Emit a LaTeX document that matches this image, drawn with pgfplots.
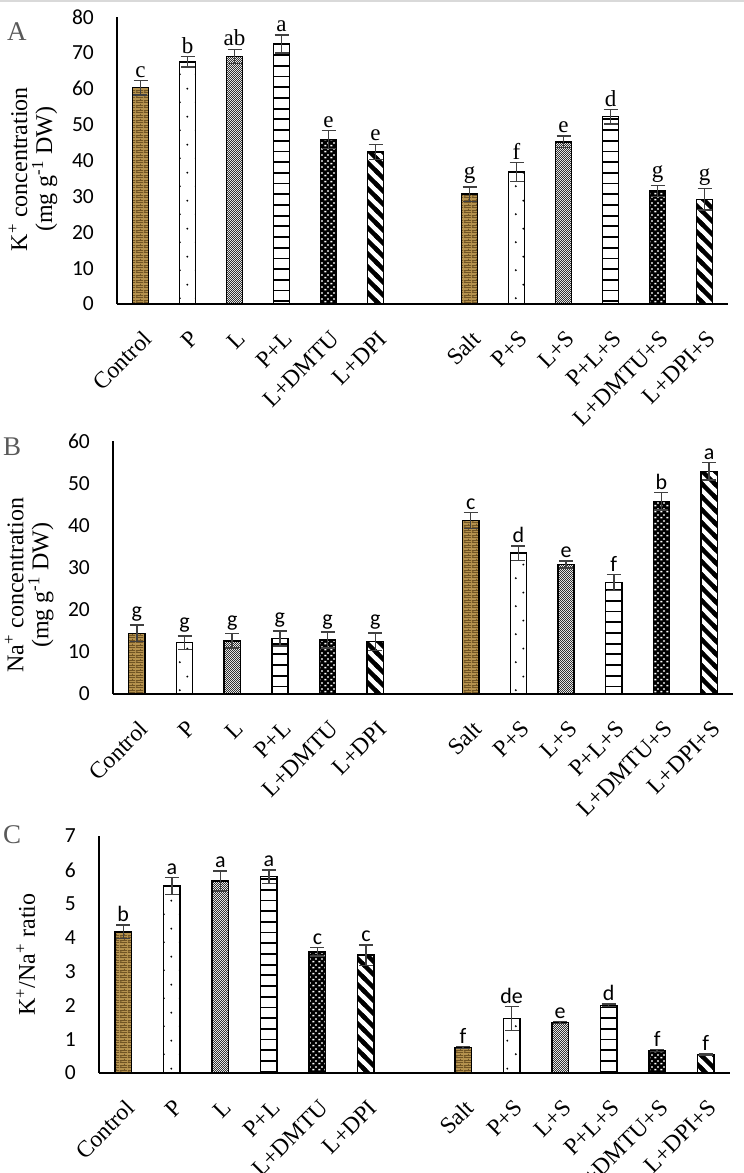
\documentclass[border=0pt]{standalone}
\usepackage{pgfplots}
\pgfplotsset{compat=1.18}
\usepackage{pgfplotstable}
\usetikzlibrary{patterns}
\usepackage{fontspec}
\setmainfont{Liberation Serif}
\newfontfamily\calfont{Carlito}

\definecolor{gold}{RGB}{181,146,78}
\definecolor{goldd}{RGB}{112,84,36}
\definecolor{errc}{RGB}{64,64,64}

\pgfdeclarepatternformonly{brickx}{\pgfpointorigin}{\pgfpoint{8pt}{5pt}}{\pgfpoint{8pt}{5pt}}{
  \pgfsetlinewidth{0.9pt}
  \pgfpathmoveto{\pgfpoint{0pt}{0.5pt}}\pgfpathlineto{\pgfpoint{8pt}{0.5pt}}
  \pgfpathmoveto{\pgfpoint{0pt}{3pt}}\pgfpathlineto{\pgfpoint{8pt}{3pt}}
  \pgfpathmoveto{\pgfpoint{1pt}{0.5pt}}\pgfpathlineto{\pgfpoint{1pt}{3pt}}
  \pgfpathmoveto{\pgfpoint{5pt}{3pt}}\pgfpathlineto{\pgfpoint{5pt}{5pt}}
  \pgfusepath{stroke}
}
\pgfdeclarepatternformonly{sparsedots}{\pgfpointorigin}{\pgfpoint{16pt}{28pt}}{\pgfpoint{16pt}{28pt}}{
  \pgfpathcircle{\pgfpoint{4pt}{7pt}}{1.1pt}
  \pgfpathcircle{\pgfpoint{12pt}{21pt}}{1.1pt}
  \pgfusepath{fill}
}
\pgfdeclarepatternformonly{finechk}{\pgfpointorigin}{\pgfpoint{2.4pt}{2.4pt}}{\pgfpoint{2.4pt}{2.4pt}}{
  \pgfpathrectangle{\pgfpoint{0pt}{0pt}}{\pgfpoint{1.2pt}{1.2pt}}
  \pgfpathrectangle{\pgfpoint{1.2pt}{1.2pt}}{\pgfpoint{1.2pt}{1.2pt}}
  \pgfusepath{fill}
}
\pgfdeclarepatternformonly{hlinesw}{\pgfpoint{-1pt}{0pt}}{\pgfpoint{12pt}{10.7pt}}{\pgfpoint{10.7pt}{10.7pt}}{
  \pgfsetlinewidth{1.8pt}
  \pgfpathmoveto{\pgfpoint{-1pt}{5pt}}\pgfpathlineto{\pgfpoint{12pt}{5pt}}
  \pgfusepath{stroke}
}
\pgfdeclarepatternformonly{wsq}{\pgfpointorigin}{\pgfpoint{6pt}{6pt}}{\pgfpoint{6pt}{6pt}}{
  \pgfpathrectangle{\pgfpoint{0.5pt}{0.8pt}}{\pgfpoint{2.3pt}{1.6pt}}
  \pgfpathrectangle{\pgfpoint{3.5pt}{3.8pt}}{\pgfpoint{2.3pt}{1.6pt}}
  \pgfusepath{fill}
}
\pgfdeclarepatternformonly{nwthick}{\pgfpoint{-3pt}{-3pt}}{\pgfpoint{16pt}{16pt}}{\pgfpoint{13pt}{13pt}}{
  \pgfsetlinewidth{4.5pt}
  \pgfpathmoveto{\pgfpoint{-3pt}{16pt}}\pgfpathlineto{\pgfpoint{16pt}{-3pt}}
  \pgfusepath{stroke}
}

\pgfplotsset{
  panel/.style={scale only axis, clip=false,
    axis x line=bottom, axis y line=left,
    axis line style={-, line width=1.6pt, black},
    major tick length=0pt,
    xmin=-0.5, xmax=12.5,
    xtick={0,1,2,3,4,5,7,8,9,10,11,12},
    xticklabels={Control,P,L,P+L,L+DMTU,L+DPI,Salt,P+S,L+S,P+L+S,L+DMTU+S,L+DPI+S},
    xticklabel style={font=\fontsize{23.5}{26}\selectfont, inner sep=0pt, anchor=east, xshift=7pt, yshift=-31pt, rotate=45},
    yticklabel style={font=\calfont\fontsize{21.5}{24}\selectfont, inner sep=0pt, anchor=east, xshift=-23pt},
    /pgf/number format/assume math mode=true,
    ylabel style={font=\fontsize{24}{25}\selectfont, align=center, anchor=center},
  },
  mybar/.style={ybar, bar width=0.34, bar shift=0pt, draw=black, line width=1.5pt,
    error bars/y dir=both, error bars/y explicit,
    error bars/error bar style={line width=1.5pt, draw=errc},
    error bars/error mark options={rotate=90, line width=1.5pt, mark size=7pt, draw=errc}},
  pctrl/.style={preaction={fill=gold}, pattern=brickx, pattern color=goldd},
  pP/.style={preaction={fill=white}, pattern=sparsedots, pattern color=black},
  pL/.style={preaction={fill=white}, pattern=finechk, pattern color=black!80},
  pPL/.style={preaction={fill=white}, pattern=hlinesw, pattern color=black},
  pDMTU/.style={preaction={fill=black}, pattern=wsq, pattern color=white},
  pDPI/.style={preaction={fill=white}, pattern=nwthick, pattern color=black},
}

\pgfplotstableread{
x v e l
0 60.3 2.0 c
1 67.5 1.5 b
2 69.0 2.0 ab
3 72.5 2.5 a
4 45.8 2.5 e
5 42.4 2.1 e
7 30.6 2.0 g
8 36.8 2.7 f
9 45.2 1.6 e
10 52.2 2.0 d
11 31.5 1.6 g
12 29.2 3.0 g
}\tA

\pgfplotstableread{
x v e l
0 14.4 2.0 g
1 12.2 1.6 g
2 12.6 1.7 g
3 13.2 1.8 g
4 12.8 1.9 g
5 12.4 2.1 g
7 41.1 1.9 c
8 33.4 1.7 d
9 30.7 0.8 e
10 26.5 1.9 f
11 45.7 2.1 b
12 52.8 2.1 a
}\tB

\pgfplotstableread{
x v e l
0 4.17 0.20 b
1 5.52 0.25 a
2 5.67 0.30 a
3 5.80 0.20 a
4 3.58 0.13 c
5 3.48 0.30 c
7 0.75 0.03 f
8 1.61 0.35 de
9 1.49 0.03 e
10 2.00 0.04 d
11 0.67 0.03 f
12 0.54 0.02 f
}\tC

\begin{document}
\begin{tikzpicture}
\useasboundingbox (0,0) rectangle (744pt,-1173pt);
\fill[black!15] (0,0) rectangle (744pt,-2pt);

% ---------- Panel A ----------
\begin{axis}[panel, at={(117pt,-304pt)}, anchor=south west,
  width=611pt, height=287pt, ymin=0, ymax=80, ytick={0,10,...,80},
  ylabel={K\textsuperscript{+} concentration\\(mg g\textsuperscript{-1} DW)},
  ylabel style={at={(axis description cs:-0.1375,0.47)}}]
\addplot[mybar, pctrl] coordinates {(0,60.3) +- (0,2.0) (7,30.6) +- (0,2.0)};
\addplot[mybar, pP] coordinates {(1,67.5) +- (0,1.5) (8,36.8) +- (0,2.7)};
\addplot[mybar, pL] coordinates {(2,69.0) +- (0,2.0) (9,45.2) +- (0,1.6)};
\addplot[mybar, pPL] coordinates {(3,72.5) +- (0,2.5) (10,52.2) +- (0,2.0)};
\addplot[mybar, pDMTU] coordinates {(4,45.8) +- (0,2.5) (11,31.5) +- (0,1.6)};
\addplot[mybar, pDPI] coordinates {(5,42.4) +- (0,2.1) (12,29.2) +- (0,3.0)};
\addplot[draw=none, mark=none, nodes near coords, point meta=explicit symbolic,
  nodes near coords style={anchor=south, text=black, font=\fontsize{23}{26}\selectfont, inner sep=3pt}]
  table[x=x, y expr=\thisrow{v}+\thisrow{e}, meta=l] {\tA};
\end{axis}

% ---------- Panel B ----------
\begin{axis}[panel, at={(113pt,-694pt)}, anchor=south west,
  width=620pt, height=253pt, ymin=0, ymax=60, ytick={0,10,...,60},
  ylabel={Na\textsuperscript{+} concentration\\(mg g\textsuperscript{-1} DW)},
  ylabel style={at={(axis description cs:-0.135,0.43)}}]
\addplot[mybar, pctrl] coordinates {(0,14.4) +- (0,2.0) (7,41.1) +- (0,1.9)};
\addplot[mybar, pP] coordinates {(1,12.2) +- (0,1.6) (8,33.4) +- (0,1.7)};
\addplot[mybar, pL] coordinates {(2,12.6) +- (0,1.7) (9,30.7) +- (0,0.8)};
\addplot[mybar, pPL] coordinates {(3,13.2) +- (0,1.8) (10,26.5) +- (0,1.9)};
\addplot[mybar, pDMTU] coordinates {(4,12.8) +- (0,1.9) (11,45.7) +- (0,2.1)};
\addplot[mybar, pDPI] coordinates {(5,12.4) +- (0,2.1) (12,52.8) +- (0,2.1)};
\addplot[draw=none, mark=none, nodes near coords, point meta=explicit symbolic,
  nodes near coords style={anchor=south, text=black, font=\calfont\fontsize{22}{25}\selectfont, inner sep=3pt}]
  table[x=x, y expr=\thisrow{v}+\thisrow{e}, meta=l] {\tB};
\end{axis}

% ---------- Panel C ----------
\begin{axis}[panel, at={(99pt,-1073pt)}, anchor=south west,
  width=631pt, height=237pt, ymin=0, ymax=7, ytick={0,1,...,7},
  ylabel={K\textsuperscript{+}/Na\textsuperscript{+} ratio},
  ylabel style={at={(axis description cs:-0.116,0.5)}}]
\addplot[mybar, pctrl] coordinates {(0,4.17) +- (0,0.20) (7,0.75) +- (0,0.03)};
\addplot[mybar, pP] coordinates {(1,5.52) +- (0,0.25) (8,1.61) +- (0,0.35)};
\addplot[mybar, pL] coordinates {(2,5.67) +- (0,0.30) (9,1.49) +- (0,0.03)};
\addplot[mybar, pPL] coordinates {(3,5.80) +- (0,0.20) (10,2.00) +- (0,0.04)};
\addplot[mybar, pDMTU] coordinates {(4,3.58) +- (0,0.13) (11,0.67) +- (0,0.03)};
\addplot[mybar, pDPI] coordinates {(5,3.48) +- (0,0.30) (12,0.54) +- (0,0.02)};
\addplot[draw=none, mark=none, nodes near coords, point meta=explicit symbolic,
  nodes near coords style={anchor=south, text=black, font=\calfont\fontsize{22}{25}\selectfont, inner sep=3pt}]
  table[x=x, y expr=\thisrow{v}+\thisrow{e}, meta=l] {\tC};
\end{axis}

\node[font=\fontsize{27}{30}\selectfont, text=black!65, anchor=base west, inner sep=0pt] at (7pt,-40pt) {A};
\node[font=\fontsize{27}{30}\selectfont, text=black!65, anchor=base west, inner sep=0pt] at (3pt,-455pt) {B};
\node[font=\fontsize{27}{30}\selectfont, text=black!65, anchor=base west, inner sep=0pt] at (3pt,-843pt) {C};
\end{tikzpicture}
\end{document}
